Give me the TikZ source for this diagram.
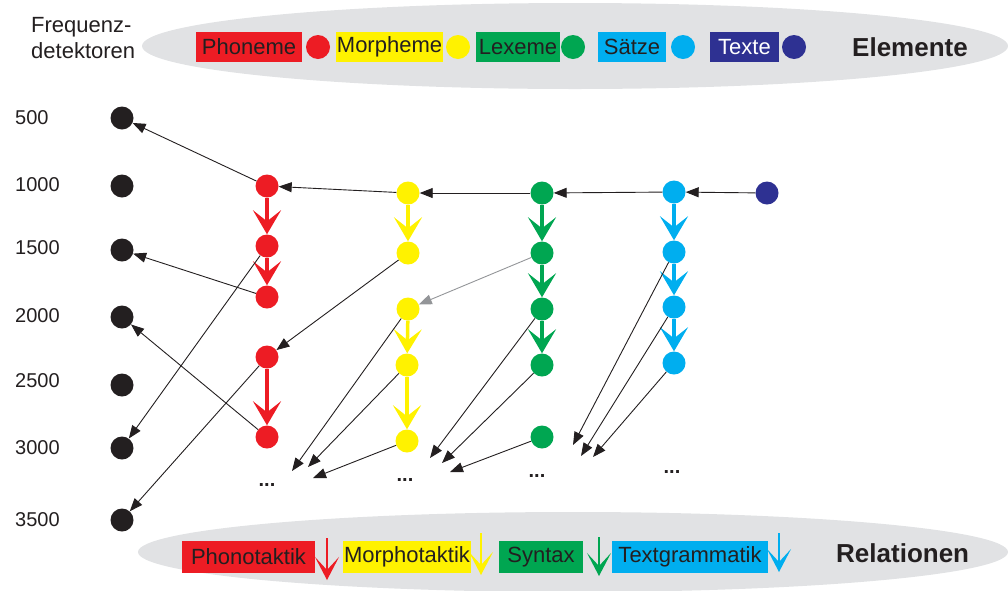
\documentclass[tikz,border=0pt]{standalone}
\usepackage{fontspec}
\setmainfont{Liberation Sans}
\usetikzlibrary{arrows.meta}

\definecolor{phon}{HTML}{ED1C24}
\definecolor{morph}{HTML}{FFF200}
\definecolor{lex}{HTML}{00A651}
\definecolor{satz}{HTML}{00AEEF}
\definecolor{txtblue}{HTML}{2E3192}
\definecolor{ink}{HTML}{231F20}
\definecolor{haze}{HTML}{E1E2E4}
\definecolor{faint}{HTML}{939598}

\begin{document}
\begin{tikzpicture}[x=1pt,y=-1pt,
  lbl/.style={inner sep=0pt, text=ink, font=\fontsize{22}{26}\selectfont},
  num/.style={inner sep=0pt, text=ink, anchor=west, font=\fontsize{20}{24}\selectfont},
  heading/.style={inner sep=0pt, text=ink, anchor=west, font=\bfseries\fontsize{26}{30}\selectfont},
  ellip/.style={inner sep=0pt, text=ink, font=\bfseries\fontsize{20}{24}\selectfont},
  tag/.style={fill=#1, text=ink, inner sep=0pt, minimum height=30pt, font=\fontsize{22}{26}\selectfont},
  reltag/.style={fill=#1, text=ink, inner sep=0pt, minimum height=32pt, font=\fontsize{22}{26}\selectfont},
  chip/.style={circle, inner sep=0pt, minimum size=24pt, fill=#1},
  detector/.style={circle, inner sep=0pt, minimum size=23pt, fill=ink},
  unit/.style={circle, inner sep=0pt, minimum size=23pt, fill=#1},
  feed/.style={draw=ink, line width=0.9pt, -{Triangle[length=13pt,width=10pt]}},
  weakfeed/.style={draw=faint, line width=0.9pt, -{Triangle[length=13pt,width=10pt]}},
  chain/.style={draw=#1, line width=3.5pt, -{Stealth[length=24pt,width=28pt,inset=11pt,fill=#1]}},
  relarrow/.style={draw=#1, line width=2.2pt, -{Stealth[length=23pt,width=24pt,inset=13pt,fill=#1]}}
]
\useasboundingbox (0,0) rectangle (1008,590);

% grey bands behind the two legends
\begin{scope}
  \clip (0,0) rectangle (1008,590);
  \fill[haze] (575,46) ellipse [x radius=433, y radius=43];
  \fill[haze] (573,552) ellipse [x radius=435, y radius=40];
\end{scope}

% caption of the detector column
\node[lbl, anchor=base west] (fq1) at (31,32) {Frequenz-};
\node[lbl, anchor=base west] (fq2) at (31,58) {detektoren};

% element legend
\node[tag=phon,  minimum width=106pt] (tPh) at (249,47) {Phoneme};
\node[chip=phon]  (cPh) at (318,47) {};
\node[tag=morph, minimum width=107pt] (tMo) at (389.5,47) {Morpheme};
\node[chip=morph] (cMo) at (458,47) {};
\node[tag=lex,   minimum width=84pt]  (tLe) at (518,47) {Lexeme};
\node[chip=lex]   (cLe) at (573,47) {};
\node[tag=satz,  minimum width=68pt]  (tSa) at (632,47) {Sätze};
\node[chip=satz]  (cSa) at (683,47) {};
\node[tag=txtblue, text=white, minimum width=69pt] (tTe) at (744.5,47) {Texte};
\node[chip=txtblue] (cTe) at (794,47) {};
\node[heading] (hEl) at (852,47) {Elemente};

% frequency scale
\node[num] (n1) at (15,118) {500};
\node[num] (n2) at (15,185) {1000};
\node[num] (n3) at (15,248) {1500};
\node[num] (n4) at (15,316) {2000};
\node[num] (n5) at (15,381) {2500};
\node[num] (n6) at (15,448) {3000};
\node[num] (n7) at (15,520) {3500};

% detectors
\node[detector] (d1) at (122,118) {};
\node[detector] (d2) at (122,186) {};
\node[detector] (d3) at (122,250) {};
\node[detector] (d4) at (122,317) {};
\node[detector] (d5) at (122,385) {};
\node[detector] (d6) at (122,448) {};
\node[detector] (d7) at (122,520) {};

% phonemes
\node[unit=phon] (r1) at (267,186) {};
\node[unit=phon] (r2) at (267,246) {};
\node[unit=phon] (r3) at (267,297) {};
\node[unit=phon] (r4) at (267,357) {};
\node[unit=phon] (r5) at (267,437) {};

% morphemes
\node[unit=morph] (m1) at (408,193) {};
\node[unit=morph] (m2) at (408,253) {};
\node[unit=morph] (m3) at (408,309) {};
\node[unit=morph] (m4) at (407,365) {};
\node[unit=morph] (m5) at (407,441) {};

% lexemes
\node[unit=lex] (l1) at (542,193) {};
\node[unit=lex] (l2) at (542,253) {};
\node[unit=lex] (l3) at (542,309) {};
\node[unit=lex] (l4) at (542,365) {};
\node[unit=lex] (l5) at (542,437) {};

% sentences
\node[unit=satz] (s1) at (674,192) {};
\node[unit=satz] (s2) at (674,252) {};
\node[unit=satz] (s3) at (674,307) {};
\node[unit=satz] (s4) at (674,363) {};

% text
\node[unit=txtblue] (t1) at (767,193) {};

% continuation marks
\node[ellip] (x1) at (267,485) {...};
\node[ellip] (x2) at (405,480) {...};
\node[ellip] (x3) at (537,476) {...};
\node[ellip] (x4) at (672,472) {...};

% open ends of the lower links
\coordinate (e1) at (292,471);
\coordinate (e2) at (308,467);
\coordinate (e3) at (313,478);
\coordinate (e4) at (430,458);
\coordinate (e5) at (442,463);
\coordinate (e6) at (450,472);
\coordinate (e7) at (573,445);
\coordinate (e8) at (581,456);
\coordinate (e9) at (593,457);

% relations inside each level
\draw[chain=phon]  (r1) -- (r2);
\draw[chain=phon]  (r2) -- (r3);
\draw[chain=phon]  (r4) -- (r5);
\draw[chain=morph] (m1) -- (m2);
\draw[chain=morph] (m3) -- (m4);
\draw[chain=morph] (m4) -- (m5);
\draw[chain=lex]   (l1) -- (l2);
\draw[chain=lex]   (l2) -- (l3);
\draw[chain=lex]   (l3) -- (l4);
\draw[chain=satz]  (s1) -- (s2);
\draw[chain=satz]  (s2) -- (s3);
\draw[chain=satz]  (s3) -- (s4);

% links between the levels
\draw[feed] (t1) -- (s1);
\draw[feed] (s1) -- (l1);
\draw[feed] (l1) -- (m1);
\draw[feed] (m1) -- (r1);
\draw[feed] (r1) -- (d1);
\draw[feed] (r2) -- (d6);
\draw[feed] (r3) -- (d3);
\draw[feed] (r4) -- (d7);
\draw[feed] (r5) -- (d4);
\draw[feed] (m2) -- (r4);
\draw[feed] (m3) -- (e1);
\draw[feed] (m4) -- (e2);
\draw[feed] (m5) -- (e3);
\draw[weakfeed] (l2) -- (m3);
\draw[feed] (l3) -- (e4);
\draw[feed] (l4) -- (e5);
\draw[feed] (l5) -- (e6);
\draw[feed] (s2) -- (e7);
\draw[feed] (s3) -- (e8);
\draw[feed] (s4) -- (e9);

% relation legend
\node[reltag=phon,  minimum width=133pt] (bPh) at (248.5,557) {Phonotaktik};
\node[reltag=morph, minimum width=128pt] (bMo) at (407,557) {Morphotaktik};
\node[reltag=lex,   minimum width=84pt]  (bSy) at (541,557) {Syntax};
\node[reltag=satz,  minimum width=156pt] (bTg) at (690,557) {Textgrammatik};
\node[heading] (hRe) at (836,553) {Relationen};

\coordinate (a1) at (327,538);  \coordinate (a1e) at (327,580);
\coordinate (a2) at (481,533);  \coordinate (a2e) at (481,575);
\coordinate (a3) at (599,537);  \coordinate (a3e) at (599,576);
\coordinate (a4) at (779,533);  \coordinate (a4e) at (779,572);
\draw[relarrow=phon]  (a1) -- (a1e);
\draw[relarrow=morph] (a2) -- (a2e);
\draw[relarrow=lex]   (a3) -- (a3e);
\draw[relarrow=satz]  (a4) -- (a4e);
\end{tikzpicture}
\end{document}
